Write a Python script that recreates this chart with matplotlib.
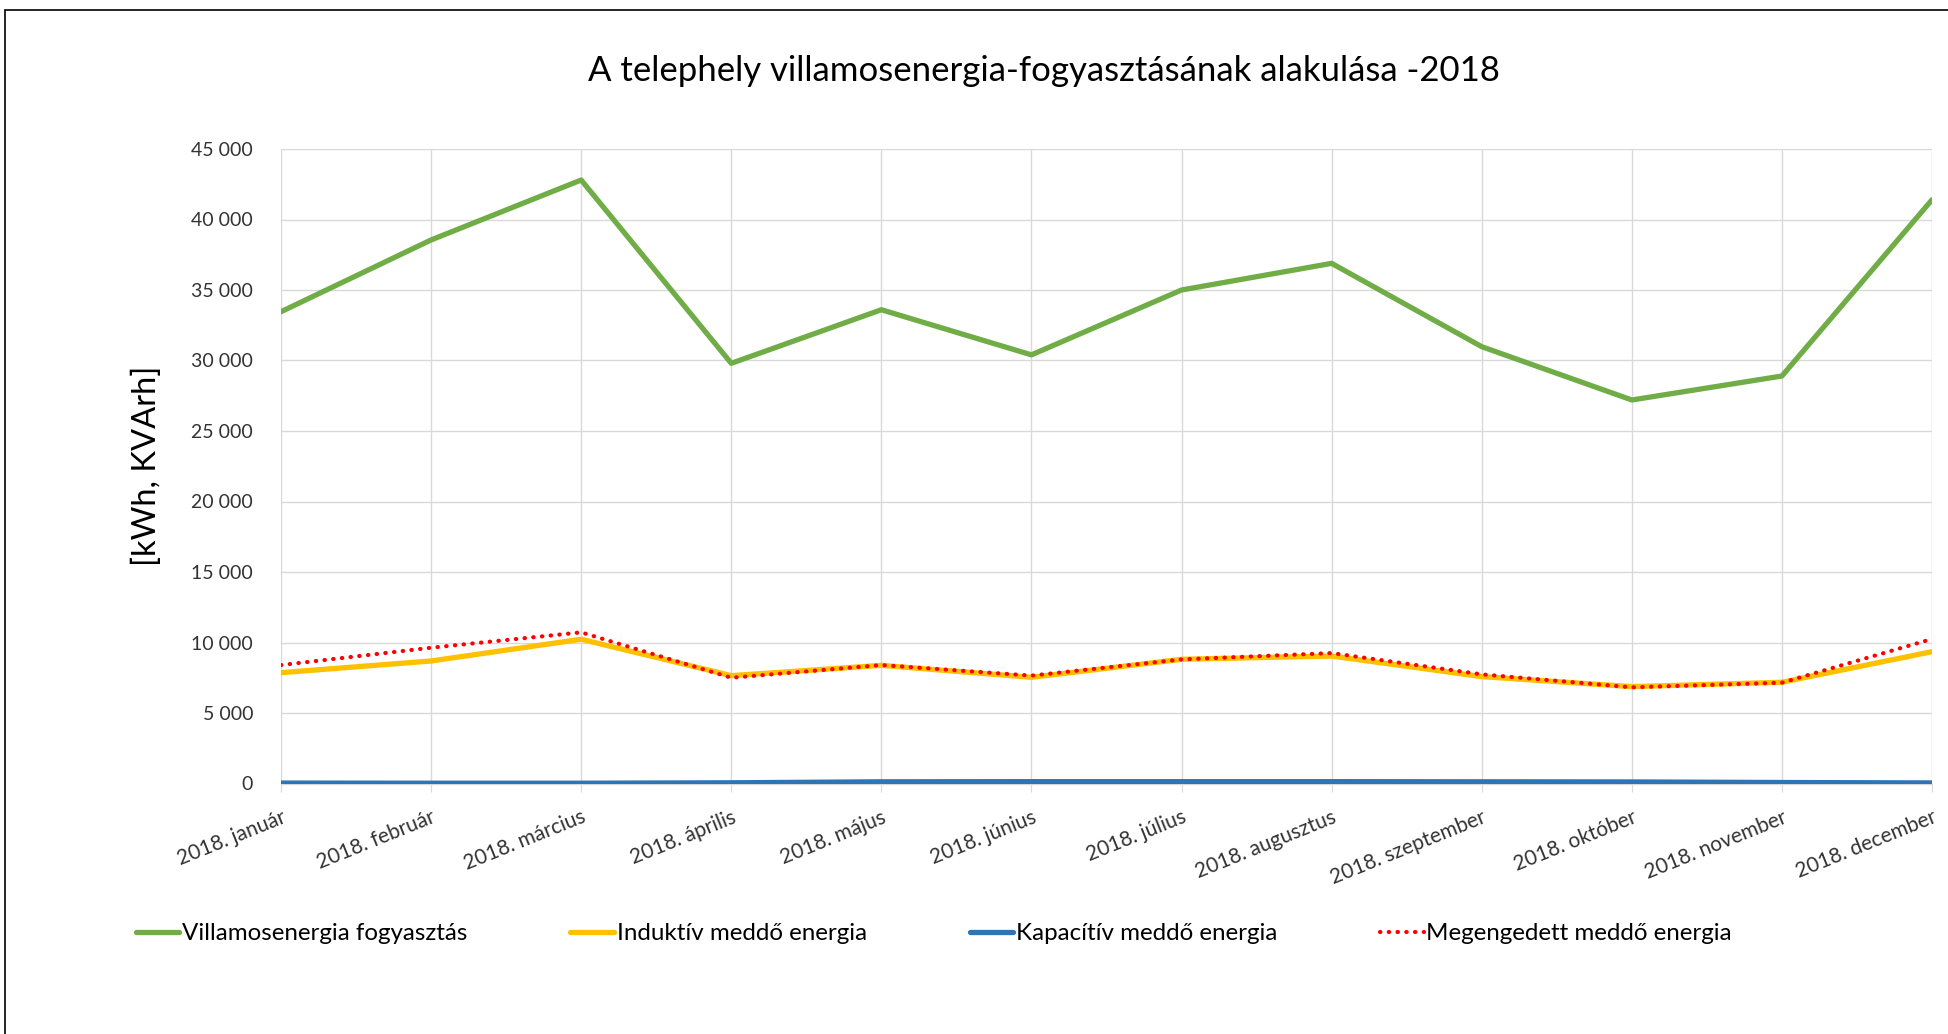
import matplotlib
matplotlib.use("Agg")
import matplotlib.pyplot as plt
from matplotlib.patches import Rectangle
from matplotlib.ticker import FuncFormatter, MultipleLocator

plt.rcParams['font.family'] = ['Lato', 'DejaVu Sans']

months = ["2018. január", "2018. február", "2018. március", "2018. április",
          "2018. május", "2018. június", "2018. július", "2018. augusztus",
          "2018. szeptember", "2018. október", "2018. november", "2018. december"]

villamos = [33460, 38550, 42800, 29800, 33600, 30400, 35000, 36890, 30980, 27200, 28900, 41400]
induktiv = [7860, 8690, 10230, 7650, 8380, 7530, 8810, 9040, 7580, 6870, 7180, 9350]
kapacitiv = [30, 20, 20, 50, 120, 130, 130, 130, 120, 110, 70, 40]
megengedett = [8400, 9630, 10720, 7500, 8400, 7650, 8800, 9250, 7740, 6820, 7150, 10250]

title = "A telephely villamosenergia-fogyasztásának alakulása -2018"
ylabel = "[kWh, KVArh]"
series_names = ["Villamosenergia fogyasztás", "Induktív meddő energia",
                "Kapacítív meddő energia", "Megengedett meddő energia"]

W, H = 1948, 1034
fig = plt.figure(figsize=(W / 100, H / 100), dpi=100)

# outer frame
fig.patches.append(Rectangle((5 / W, -0.02), 1.05, 1 - 10 / H + 0.02,
                             transform=fig.transFigure, fill=False,
                             edgecolor='black', linewidth=1.2))

ax = fig.add_axes([281 / W, 1 - 783.5 / H, (1932 - 281) / W, (783.5 - 149) / H])
x = list(range(len(months)))

ax.plot(x, villamos, color='#70AD47', lw=3.8, label=series_names[0], solid_capstyle='round', zorder=3)
ax.plot(x, induktiv, color='#FFC000', lw=3.8, label=series_names[1], solid_capstyle='round', zorder=3)
ax.plot(x, kapacitiv, color='#2E75B6', lw=3.8, label=series_names[2], solid_capstyle='round', zorder=3)
ax.plot(x, megengedett, color='#FF0000', lw=3.0, linestyle=(0, (0.1, 2.0)),
        dash_capstyle='round', label=series_names[3], zorder=4)

ax.set_xlim(0, 11)
ax.set_ylim(0, 45000)
ax.yaxis.set_major_locator(MultipleLocator(5000))
ax.yaxis.set_major_formatter(FuncFormatter(lambda v, p: f"{int(v):,}".replace(",", " ")))
ax.set_xticks(x)
ax.set_xticklabels(months, rotation=22, ha='right', rotation_mode='anchor')

ax.grid(True, color='#d9d9d9', lw=1.0, zorder=0)
for s in ['top', 'right', 'left']:
    ax.spines[s].set_visible(False)
ax.spines['bottom'].set_color('#d9d9d9')
ax.spines['bottom'].set_linewidth(1.0)
ax.tick_params(axis='y', length=0, labelsize=14, labelcolor='#333333', pad=20)
ax.tick_params(axis='x', length=6, color='#d9d9d9', labelsize=15, labelcolor='#333333', pad=11)

ax.set_ylabel(ylabel, fontsize=23.5, color='black')
ax.yaxis.set_label_coords(-0.072, 0.5)

fig.text(1044 / W, 1 - 71 / H, title, ha='center', va='center', fontsize=25, color='black')

fig.legend(loc='center', bbox_to_anchor=(934 / W, 1 - 934 / H), ncol=4, frameon=False,
           fontsize=17.4, handlelength=1.8, handletextpad=0.12, columnspacing=4.25,
           labelcolor='black')

fig.savefig("out.png", dpi=100)
